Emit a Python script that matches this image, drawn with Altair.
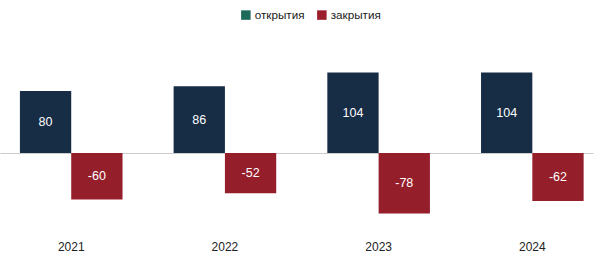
import altair as alt
import pandas as pd

years = ["2021", "2022", "2023", "2024"]
openings = [80, 86, 104, 104]
closings = [-60, -52, -78, -62]
series = ["открытия", "закрытия"]

rows = []
for y, o, c in zip(years, openings, closings):
    rows.append({"year": y, "series": series[0], "value": o})
    rows.append({"year": y, "series": series[1], "value": c})
df = pd.DataFrame(rows)

FONT = "Liberation Sans"

xscale = alt.Scale(paddingInner=0.3325, paddingOuter=0.0953, align=0.68)
yscale = alt.Scale(domain=[-99.4, 158.7], nice=False, zero=False)
offscale = alt.Scale(paddingInner=0, paddingOuter=0)

base = alt.Chart(df)

X = alt.X("year:N", scale=xscale, sort=years,
          axis=alt.Axis(title=None, labelAngle=0, ticks=False, domain=False,
                        labelPadding=11, labelFontSize=12, labelColor="#222222",
                        labelFont=FONT))
XO = alt.XOffset("series:N", sort=series, scale=offscale)

bars = base.mark_bar().encode(
    x=X,
    xOffset=XO,
    y=alt.Y("value:Q", scale=yscale,
            axis=alt.Axis(values=[0], grid=True, gridColor="#cccccc", gridWidth=1,
                          labels=False, ticks=False, domain=False, title=None)),
    color=alt.Color("series:N", sort=series,
                    scale=alt.Scale(domain=series, range=["#172d46", "#951e2b"]),
                    legend=None),
)

labels = base.transform_calculate(
    mid="datum.value / 2", lbl="'' + datum.value"
).mark_text(
    color="white", fontSize=12.5, font=FONT, baseline="middle", align="center"
).encode(
    x=X,
    xOffset=XO,
    y=alt.Y("mid:Q", scale=yscale),
    text=alt.Text("lbl:N"),
)

legend_layer = base.transform_calculate(zero="0").mark_bar().encode(
    x=X,
    xOffset=XO,
    y=alt.Y("zero:Q", scale=yscale),
    color=alt.Color("series:N", sort=series,
                    scale=alt.Scale(domain=series, range=["#1d6a5b", "#9a1e2c"]),
                    legend=alt.Legend(title=None, orient="none", direction="horizontal",
                                      legendX=240, legendY=-21,
                                      symbolType="square", symbolSize=90,
                                      symbolStrokeWidth=0, labelFontSize=11.7,
                                      labelFont=FONT, labelColor="#222222",
                                      labelOffset=3, columnPadding=11)),
)

chart = alt.layer(bars, labels, legend_layer).resolve_scale(
    color="independent"
).properties(
    width=593, height=200,
    autosize=alt.AutoSizeParams(type="none"),
    padding={"left": 0, "top": 30, "right": 7, "bottom": 34},
).configure_view(stroke=None)

chart.save("out.html", embed_options={"renderer": "svg", "actions": False})
